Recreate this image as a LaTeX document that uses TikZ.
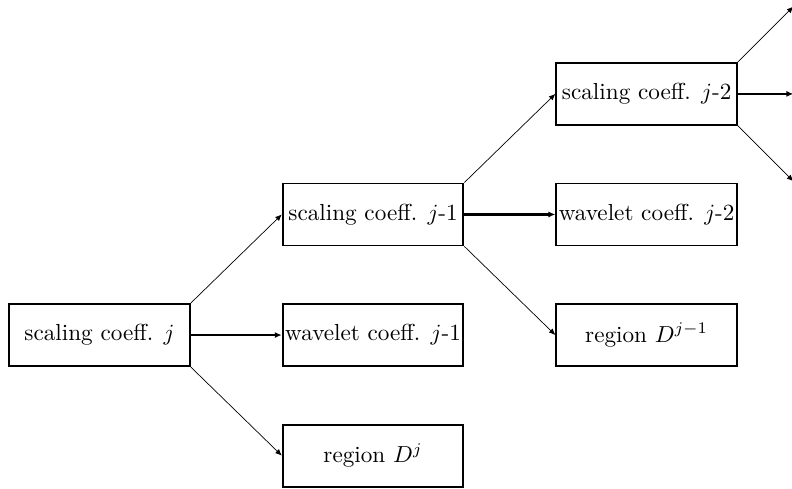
\documentclass[tikz,border=0pt]{standalone}
\usetikzlibrary{positioning, arrows.meta, calc}

\begin{document}
\begin{tikzpicture}[
    node distance=0.86cm and 1.38cm,
    coeff/.style={rectangle, draw, line width=0.8pt, minimum width=2.74cm, minimum height=0.94cm, inner sep=1pt},
    arrow/.style={-{Latex[length=2.8pt, width=2.4pt]}, line width=0.3pt},
    marrow/.style={-{Latex[length=3pt, width=2.6pt]}, line width=1.1pt}
]
\useasboundingbox (-1.508, -2.32) rectangle (10.50, 5.08);

% first level
\node[coeff] (s0) at (0, 0) {scaling coeff. $j$};

% second level
\node[coeff, right=of s0] (w1) {wavelet coeff. $j$-1};
\node[coeff, above=of w1] (s1) {scaling coeff. $j$-1};
\node[coeff, below=of w1] (d0) {region $D^j$};

\draw[arrow] (s0.north east) -- (s1.west);
\draw[marrow] (s0.east) -- (w1.west);
\draw[arrow] (s0.south east) -- (d0.west);

% third level
\node[coeff, right=of s1] (w2) {wavelet coeff. $j$-2};
\node[coeff, above=of w2] (s2) {scaling coeff. $j$-2};
\node[coeff, below=of w2] (d1) {region $D^{j-1}$};

\draw[arrow] (s1.north east) -- (s2.west);
\draw[marrow] (s1.east) -- (w2.west);
\draw[arrow] (s1.south east) -- (d1.west);

% cut off at the border
\coordinate (up) at ($(s2.north east)+(0.84, 0.84)$);
\coordinate (mid) at ($(s2.east)+(0.84, 0)$);
\coordinate (down) at ($(s2.south east)+(0.84, -0.84)$);

\draw[arrow] (s2.north east) -- (up);
\draw[marrow] (s2.east) -- (mid);
\draw[arrow] (s2.south east) -- (down);

\end{tikzpicture}
\end{document}
